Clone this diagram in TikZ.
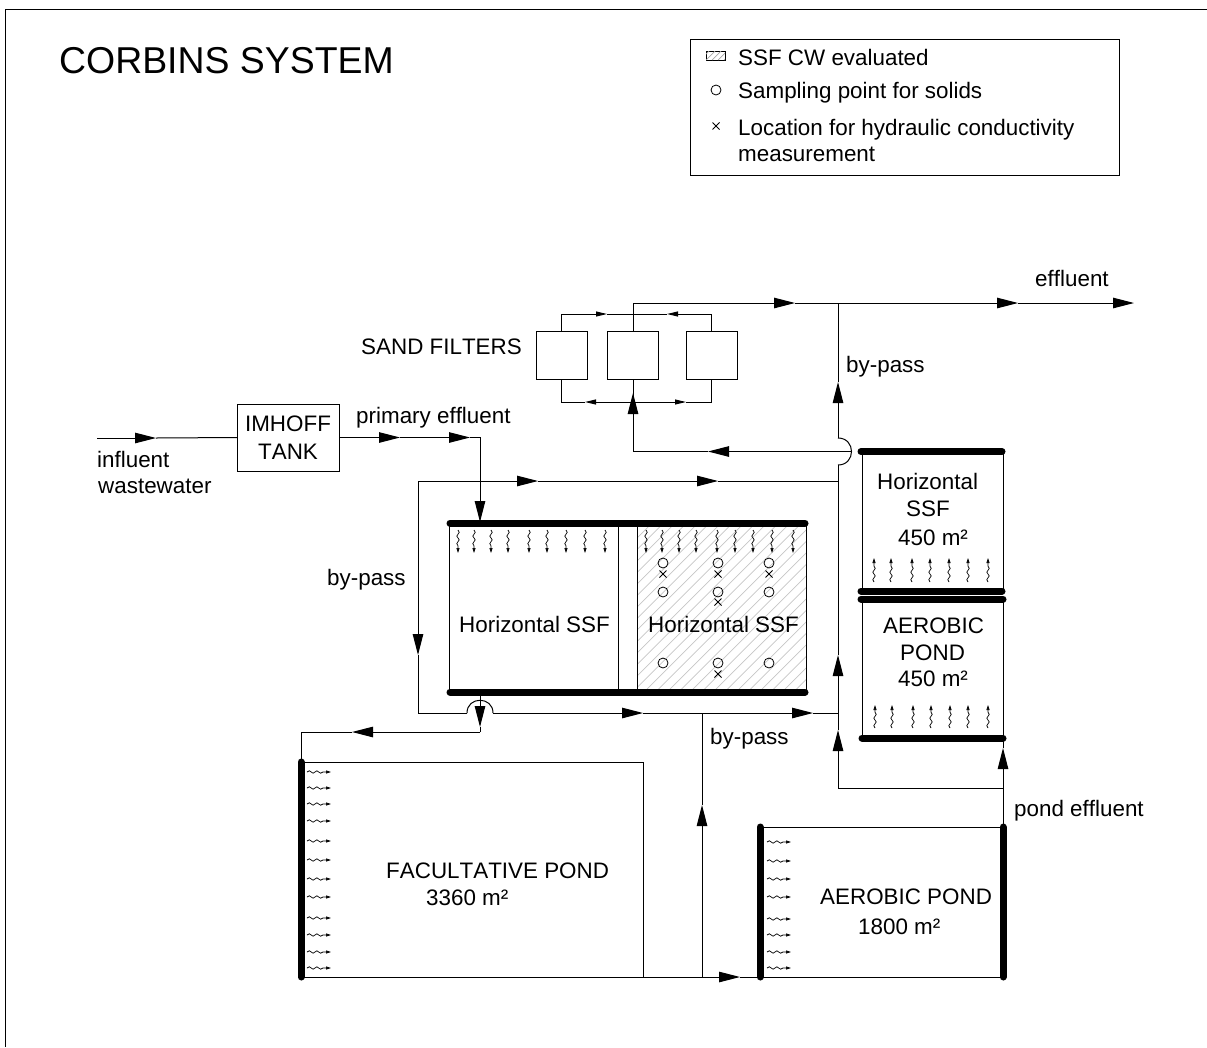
\documentclass[tikz,border=0pt]{standalone}
\usepackage{fontspec}
\setmainfont[Kerning=Off]{Liberation Sans}
\usetikzlibrary{arrows.meta,calc,decorations.pathmorphing}
\tikzset{
  pipe/.style={line width=1pt},
  flow/.style={line width=1pt,-{Triangle[length=21pt,width=10.5pt]}},
  smallflow/.style={line width=1pt,-{Triangle[length=11pt,width=5pt]}},
  unit/.style={draw,line width=1pt,outer sep=0pt,inner sep=0pt},
  bar/.style={line width=7pt,line cap=round},
  lbl/.style={font=\fontsize{22.4}{27.5}\selectfont,inner sep=0pt,anchor=base west},
  seep/.style={line width=0.7pt,decorate,decoration={snake,amplitude=1.2pt,segment length=7.5pt,post length=5pt},-{Triangle[length=5pt,width=3pt]}},
  sample/.style={circle,draw,line width=0.8pt,minimum size=10pt,inner sep=0pt},
  hatch/.style={line width=0.7pt,gray!45}
}
\newcommand{\measure}[1]{\draw[line width=0.8pt] ($(#1)+(-3.5,-3.5)$) -- ($(#1)+(3.5,3.5)$) ($(#1)+(-3.5,3.5)$) -- ($(#1)+(3.5,-3.5)$);}
\begin{document}
\begin{tikzpicture}[x=1pt,y=-1pt]
\useasboundingbox (0,0) rectangle (1207,1047);
\coordinate (frameA) at (1207,9);
\coordinate (frameB) at (5,9);
\coordinate (frameC) at (5,1047);
\draw [pipe] (frameA) -- (frameB) -- (frameC);
\node [lbl,font=\fontsize{37.4}{40}\selectfont] (title) at (59,73) {CORBINS SYSTEM};
% legend
\node [unit,minimum width=429pt,minimum height=136pt] (legend) at (904.5,107) {};
\draw [pipe,line width=0.7pt] (706,51) rectangle (725,60);
\begin{scope}
\clip (706,51) rectangle (725,60);
\foreach \hx in {700,706,712,718,724}
  \draw [hatch,gray!70] (\hx,60) -- ++(9,-9);
\end{scope}
\node [lbl] (legendA) at (738,65) {SSF CW evaluated};
\node [sample] (legendB) at (716,90) {};
\node [lbl] (legendC) at (738,98) {Sampling point for solids};
\coordinate (legendD) at (716,126);
\measure{legendD}
\node [lbl] (legendE) at (738,135) {Location for hydraulic conductivity};
\node [lbl] (legendF) at (738,161) {measurement};
% units
\node [unit,minimum width=102pt,minimum height=67pt,font=\fontsize{22.4}{27.5}\selectfont,align=center] (imhoff) at (288,437.5) {IMHOFF\\TANK};
\node [unit,minimum width=51pt,minimum height=48pt] (filterA) at (561.5,355) {};
\node [unit,minimum width=51pt,minimum height=48pt] (filterB) at (633,355) {};
\node [unit,minimum width=51pt,minimum height=48pt] (filterC) at (711.5,355) {};
\begin{scope}
\clip (637,523) rectangle (806,692);
\foreach \hx in {437,448.5,...,800}
  \draw [hatch] (\hx,692) -- ++(169,-169);
\end{scope}
\node [unit,minimum width=169pt,minimum height=169pt] (ssfA) at (533.5,607.5) {};
\node [unit,minimum width=169pt,minimum height=169pt] (ssfB) at (721.5,607.5) {};
\node [unit,minimum width=141pt,minimum height=140pt] (ssfC) at (932.5,521) {};
\node [unit,minimum width=141pt,minimum height=139pt] (pondA) at (932.5,668.5) {};
\node [unit,minimum width=342pt,minimum height=215pt] (pondB) at (472,869.5) {};
\node [unit,minimum width=243pt,minimum height=150pt] (pondC) at (881.5,902) {};
\draw [bar] (450,523) -- (805,523);
\draw [bar] (450,692) -- (805,692);
\draw [bar] (861,451.5) -- (1002,451.5);
\draw [bar] (861,591) -- (1002,591);
\draw [bar] (861,599) -- (1003,599);
\draw [bar] (862,738) -- (1003,738);
\draw [bar] (301,762) -- (301,977);
\draw [bar] (760,827) -- (760,977);
\draw [bar] (1003,827) -- (1003,977);
% seepage
\foreach \sx in {458,474,491,508,529,547,566,585,605,646,662,679,696,717,735,753,772,793}
  \draw [seep] (\sx,530) -- (\sx,553);
\foreach \sx in {874,891,912,930,949,968,988}
  \draw [seep] (\sx,582) -- (\sx,558);
\foreach \sx in {875,892,913,931,950,968,988}
  \draw [seep] (\sx,728) -- (\sx,705);
\foreach \sy in {772,788,804,821,841,860,879,897,918,935,952,968}
  \draw [seep] (307,\sy) -- (331,\sy);
\foreach \sy in {842,861,879,897,919,935,952,968}
  \draw [seep] (767,\sy) -- (791,\sy);
% sampling points
\foreach \px in {663,718,769}
  \foreach \py in {563,592,663}
    \node [sample] (pt\px-\py) at (\px,\py) {};
\foreach \mx/\my in {663/574,718/574,769/574,718/602,718/674}
  {\coordinate (mm) at (\mx,\my); \measure{mm}}
% influent line
\coordinate (inflA) at (97,438);
\coordinate (inflB) at (156,438);
\draw [flow] (inflA) -- (inflB);
\draw [pipe] (inflB) -- (imhoff.west);
\coordinate (primA) at (400,437.5);
\coordinate (primB) at (470,437.5);
\coordinate (primC) at (480,437.5);
\coordinate (primD) at (480,522);
\draw [flow] (imhoff.east) -- (primA);
\draw [flow] (primA) -- (primB);
\draw [flow] (primB) -- (primC) -- (primD);
% sand filters
\coordinate (topA) at (561.5,314);
\coordinate (topB) at (607,314);
\coordinate (topC) at (667,314);
\coordinate (topD) at (711.5,314);
\draw [smallflow] (filterA.north) -- (topA) -- (topB);
\draw [pipe] (topB) -- (topC);
\draw [smallflow] (filterC.north) -- (topD) -- (topC);
\coordinate (lowA) at (561.5,402);
\coordinate (lowB) at (585,402);
\coordinate (lowC) at (686,402);
\coordinate (lowD) at (711.5,402);
\coordinate (lowE) at (633,402);
\draw [pipe] (filterA.south) -- (lowA) -- (lowB);
\draw [smallflow] (lowE) -- (lowB);
\draw [smallflow] (lowE) -- (lowC);
\draw [pipe] (lowC) -- (lowD) -- (filterC.south);
\draw [pipe] (lowE) -- (filterB.south);
% effluent
\coordinate (outA) at (633,303);
\coordinate (outB) at (795,303);
\coordinate (outC) at (838,303);
\coordinate (outD) at (1018,303);
\coordinate (outE) at (1134,303);
\draw [pipe] (filterB.north) -- (outA);
\draw [flow] (outA) -- (outB);
\draw [pipe] (outB) -- (outC);
\draw [flow] (outC) -- (outD);
\draw [flow] (outD) -- (outE);
% return to filters
\coordinate (retA) at (852,451.5);
\coordinate (retB) at (708,451.5);
\coordinate (retC) at (633,451.5);
\coordinate (retD) at (633,393);
\draw [flow] (retA) -- (retB);
\draw [flow] (retB) -- (retC) -- (retD);
% right by-pass
\coordinate (rightA) at (1003,827);
\coordinate (rightB) at (1003,748);
\coordinate (rightC) at (1003,788);
\coordinate (rightD) at (838,788);
\coordinate (rightE) at (838,730);
\coordinate (rightF) at (838,655);
\coordinate (rightG) at (838,465);
\coordinate (rightH) at (838,438);
\coordinate (rightI) at (838,382);
\draw [flow] (rightA) -- (rightB);
\draw [pipe] (rightB) -- (1003,741);
\draw [flow] (rightC) -- (rightD) -- (rightE);
\draw [flow] (rightE) -- (rightF);
\draw [pipe] (rightF) -- (rightG);
\draw [pipe] (rightG) to [out=0,in=0,distance=18pt] (rightH);
\draw [flow] (rightH) -- (rightI);
\draw [pipe] (rightI) -- (outC);
% upper loop
\coordinate (loopA) at (838,481);
\coordinate (loopB) at (718,481);
\coordinate (loopC) at (538,481);
\coordinate (loopD) at (418,481);
\coordinate (loopE) at (418,655);
\coordinate (loopF) at (418,713);
\coordinate (loopG) at (467,713);
\coordinate (loopH) at (493,713);
\coordinate (loopI) at (643,713);
\coordinate (loopJ) at (813,713);
\coordinate (loopK) at (838,713);
\draw [flow] (loopD) -- (loopC);
\draw [flow] (loopC) -- (loopB);
\draw [pipe] (loopB) -- (loopA);
\draw [flow] (loopD) -- (loopE);
\draw [pipe] (loopE) -- (loopF) -- (loopG);
\draw [pipe] (loopG) to [out=90,in=90,distance=17pt] (loopH);
\draw [flow] (loopH) -- (loopI);
\draw [flow] (loopI) -- (loopJ);
\draw [pipe] (loopJ) -- (loopK);
% to facultative pond
\coordinate (facA) at (480,692);
\coordinate (facB) at (480,727);
\coordinate (facC) at (480,732);
\coordinate (facD) at (352,732);
\coordinate (facE) at (301,732);
\coordinate (facF) at (301,759);
\draw [flow] (facA) -- (facB);
\draw [pipe] (facB) -- (facC);
\draw [flow] (facC) -- (facD);
\draw [pipe] (facD) -- (facE) -- (facF);
% pond links
\coordinate (bypA) at (702,977);
\coordinate (bypB) at (702,805);
\coordinate (bypC) at (702,713);
\coordinate (bypD) at (740,977);
\coordinate (bypE) at (757,977);
\draw [flow] (bypA) -- (bypB);
\draw [pipe] (bypB) -- (bypC);
\draw [flow] (pondB.south east) -- (bypD);
\draw [pipe] (bypD) -- (bypE);
% labels
\node [lbl] (sandlbl) at (361,354) {SAND FILTERS};
\node [lbl] (effluentlbl) at (1035,286) {effluent};
\node [lbl] (bypassA) at (846,372) {by-pass};
\node [lbl] (primlbl) at (356,423) {primary effluent};
\node [lbl] (inflC) at (97,467) {influent};
\node [lbl] (inflD) at (98,493) {wastewater};
\node [lbl] (bypassB) at (327,585) {by-pass};
\node [lbl] (bypassC) at (710,744) {by-pass};
\node [lbl] (pondlbl) at (1014,816) {pond effluent};
\node [lbl] (ssfAlbl) at (459,632) {Horizontal SSF};
\node [lbl] (ssfBlbl) at (648,632) {Horizontal SSF};
\node [lbl] (ssfCa) at (877,489) {Horizontal};
\node [lbl] (ssfCb) at (906,516) {SSF};
\node [lbl] (ssfCc) at (898,545) {450 m²};
\node [lbl] (pondAa) at (883,633) {AEROBIC};
\node [lbl] (pondAb) at (900,660) {POND};
\node [lbl] (pondAc) at (898,686) {450 m²};
\node [lbl] (pondBa) at (386,878) {FACULTATIVE POND};
\node [lbl] (pondBb) at (426,905) {3360 m²};
\node [lbl] (pondCa) at (820,904) {AEROBIC POND};
\node [lbl] (pondCb) at (858,934) {1800 m²};
\end{tikzpicture}
\end{document}
